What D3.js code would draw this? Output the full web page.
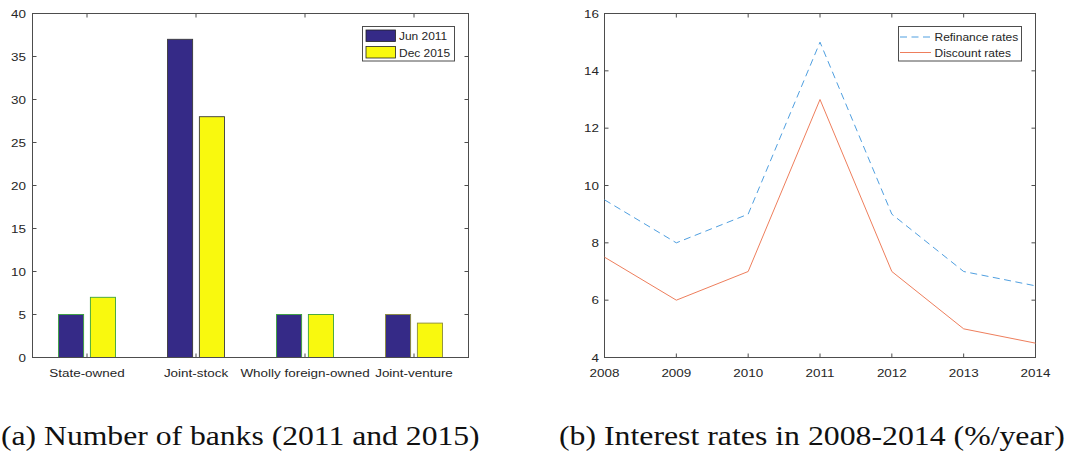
<!DOCTYPE html>
<html>
<head>
<meta charset="utf-8">
<script src="https://cdn.jsdelivr.net/npm/d3@7"></script>
<style>
  html, body { margin: 0; padding: 0; background: #fff; }
  svg { display: block; }
</style>
</head>
<body>
<svg id="chart" width="1069" height="452"></svg>
<script>
// Panel (a): number of banks by ownership type
const bankTypes = ["State-owned", "Joint-stock", "Wholly foreign-owned", "Joint-venture"];
const banksJun2011 = [5, 37, 5, 5];
const banksDec2015 = [7, 28, 5, 4];
const bankSeries = ["Jun 2011", "Dec 2015"];
const bankTicks = [0, 5, 10, 15, 20, 25, 30, 35, 40];

// Panel (b): interest rates 2008-2014 (%/year)
const years = [2008, 2009, 2010, 2011, 2012, 2013, 2014];
const refinanceRates = [9.5, 8, 9, 15, 9, 7, 6.5];
const discountRates = [7.5, 6, 7, 13, 7, 5, 4.5];
const rateSeries = ["Refinance rates", "Discount rates"];
const rateTicks = [4, 6, 8, 10, 12, 14, 16];

const captions = ["(a) Number of banks (2011 and 2015)", "(b) Interest rates in 2008-2014 (%/year)"];

const svg = d3.select("#chart");
const axisColor = "#4d4d4d";
const textColor = "#262626";
const tickFont = "'Liberation Sans', Arial, Helvetica, sans-serif";
const tickSize = 11.5;
const tickStretch = 1.17;
const legendStretch = 1.04;
const barFill = ["#352a87", "#f9f90e"];
const barEdge = ["#3aa23a", "#3a3a3a", "#3aa23a", "#8a8a3a"];
const lineColor = ["#4f9fe0", "#ee7e5c"];

// Sans-serif label, widened about its anchor point
function label(g, x, y, str, anchor, stretch) {
  return g.append("text")
    .attr("transform", `translate(${x},${y}) scale(${stretch || tickStretch},1)`)
    .attr("text-anchor", anchor || "start")
    .attr("font-family", tickFont).attr("font-size", tickSize).attr("fill", textColor)
    .text(str);
}

// Draws a box axis with inward ticks on all four sides
function boxAxes(g, x, y, xTicks, yTicks, tickLen) {
  const [x0, x1] = x.range();
  const [y0, y1] = y.range();
  g.append("rect")
    .attr("x", x0).attr("y", y1)
    .attr("width", x1 - x0).attr("height", y0 - y1)
    .attr("fill", "none").attr("stroke", axisColor).attr("stroke-width", 1);
  xTicks.forEach(t => {
    const px = x(t);
    g.append("line").attr("x1", px).attr("x2", px).attr("y1", y0).attr("y2", y0 - tickLen)
      .attr("stroke", axisColor);
    g.append("line").attr("x1", px).attr("x2", px).attr("y1", y1).attr("y2", y1 + tickLen)
      .attr("stroke", axisColor);
  });
  yTicks.forEach(t => {
    const py = y(t);
    g.append("line").attr("x1", x0).attr("x2", x0 + tickLen).attr("y1", py).attr("y2", py)
      .attr("stroke", axisColor);
    g.append("line").attr("x1", x1).attr("x2", x1 - tickLen).attr("y1", py).attr("y2", py)
      .attr("stroke", axisColor);
  });
}

// ---------- Panel (a) ----------
const ga = svg.append("g");
const xa = d3.scaleLinear().domain([0.5, 4.5]).range([32.5, 468.5]);
const ya = d3.scaleLinear().domain([0, 40]).range([357.5, 13.5]);
const catPos = bankTypes.map((_, i) => i + 1);
const barOffset = 0.146, barWidth = 0.23;

boxAxes(ga, xa, ya, catPos, bankTicks, 4);

const barData = [];
bankTypes.forEach((c, i) => {
  [banksJun2011[i], banksDec2015[i]].forEach((v, s) => {
    barData.push({ cat: i + 1, s, v, edge: barEdge[i] });
  });
});
ga.append("g").selectAll("rect").data(barData).join("rect")
  .attr("x", d => xa(d.cat + (d.s === 0 ? -barOffset : barOffset) - barWidth / 2))
  .attr("width", d => xa(barWidth) - xa(0))
  .attr("y", d => ya(d.v))
  .attr("height", d => ya(0) - ya(d.v))
  .attr("fill", d => barFill[d.s])
  .attr("stroke", d => d.edge)
  .attr("stroke-width", 0.9);

ga.append("line").attr("x1", xa.range()[0]).attr("x2", xa.range()[1])
  .attr("y1", ya(0)).attr("y2", ya(0)).attr("stroke", axisColor);

bankTicks.forEach(t => label(ga, 26, ya(t) + 4, t, "end"));
bankTypes.forEach((c, i) => label(ga, xa(i + 1), 377, c, "middle"));

// legend (a)
const la = ga.append("g");
la.append("rect").attr("x", 362.5).attr("y", 26.5).attr("width", 92).attr("height", 34.5)
  .attr("fill", "#fff").attr("stroke", axisColor);
bankSeries.forEach((name, s) => {
  const yy = 30 + s * 16.5;
  la.append("rect").attr("x", 366).attr("y", yy).attr("width", 29.5).attr("height", 11.5)
    .attr("fill", barFill[s]).attr("stroke", "#222").attr("stroke-width", 0.8);
  label(la, 399, yy + 10, name, "start", legendStretch);
});

// ---------- Panel (b) ----------
const gb = svg.append("g");
const xb = d3.scaleLinear().domain([2008, 2014]).range([604.5, 1035.5]);
const yb = d3.scaleLinear().domain([4, 16]).range([357.5, 13.5]);

boxAxes(gb, xb, yb, years, rateTicks, 4);

const line = d3.line().x((d, i) => xb(years[i])).y(d => yb(d));
gb.append("path").datum(refinanceRates).attr("d", line)
  .attr("fill", "none").attr("stroke", lineColor[0]).attr("stroke-width", 1)
  .attr("stroke-dasharray", "7,4.5");
gb.append("path").datum(discountRates).attr("d", line)
  .attr("fill", "none").attr("stroke", lineColor[1]).attr("stroke-width", 1);

rateTicks.forEach(t => label(gb, 599, yb(t) + 4, t, "end"));
years.forEach(yr => label(gb, xb(yr), 377, yr, "middle"));

// legend (b)
const lb = gb.append("g");
lb.append("rect").attr("x", 898.5).attr("y", 26.5).attr("width", 123).attr("height", 34.5)
  .attr("fill", "#fff").attr("stroke", axisColor);
rateSeries.forEach((name, s) => {
  const yy = 37 + s * 15.5;
  lb.append("line").attr("x1", 900).attr("x2", 931).attr("y1", yy).attr("y2", yy)
    .attr("stroke", lineColor[s]).attr("stroke-width", 1)
    .attr("stroke-dasharray", s === 0 ? "7,4.5" : null);
  label(lb, 934.5, yy + 4, name, "start", legendStretch);
});

// ---------- Captions (serif, fitted to their column widths) ----------
const capFont = "'Liberation Serif', 'DejaVu Serif', serif";
[[1, 479], [559, 506]].forEach(([x, len], i) => {
  const t = svg.append("text")
    .attr("font-family", capFont).attr("font-size", 27).attr("fill", "#111")
    .text(captions[i]);
  const w = t.node().getComputedTextLength();
  t.attr("transform", `translate(${x},445) scale(${len / w},1)`);
});
</script>
</body>
</html>
